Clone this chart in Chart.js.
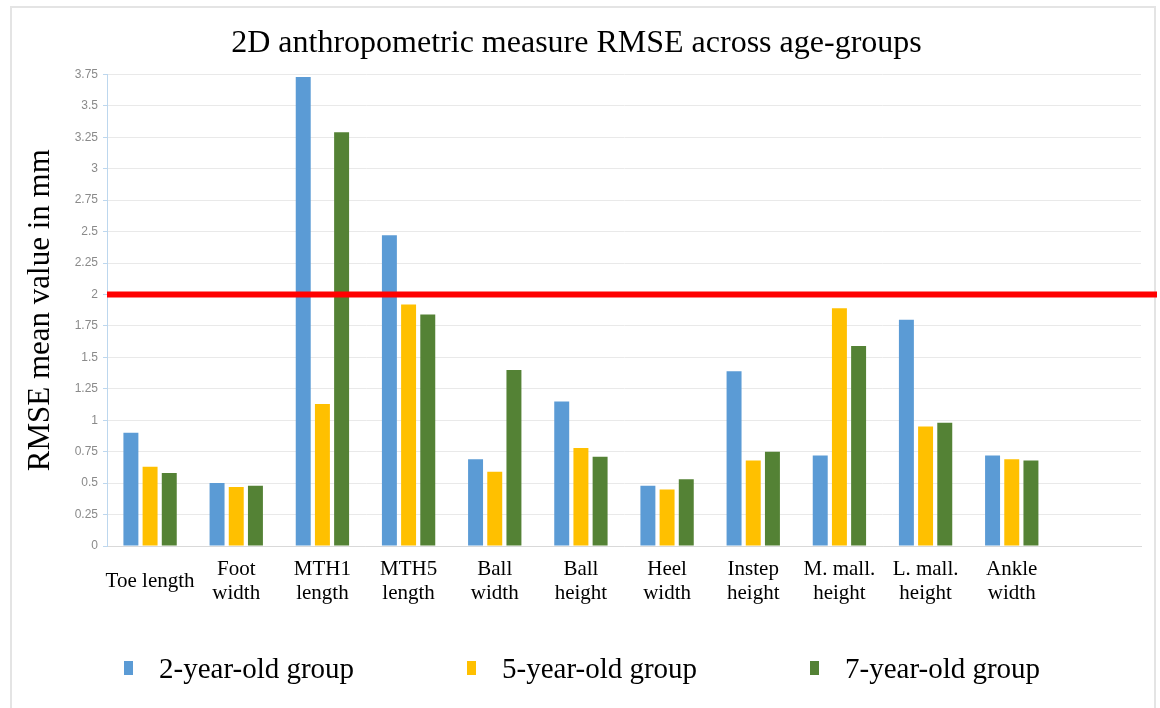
<!DOCTYPE html>
<html>
<head>
<meta charset="utf-8">
<script src="https://cdn.jsdelivr.net/npm/chart.js@4/dist/chart.umd.min.js"></script>
<style>
  html, body { margin: 0; padding: 0; background: #ffffff; }
  #wrap { position: relative; width: 1160px; height: 708px; overflow: hidden; }
  #frame { position: absolute; left: 10px; top: 6px; width: 1146px; height: 720px; border: 2px solid #e4e4e4; box-sizing: border-box; }
  canvas { position: absolute; left: 0; top: 0; }
  #legend { position: absolute; left: 124px; top: 648px; display: flex; font-family: "Liberation Serif", "Times New Roman", serif; font-size: 29px; color: #000; }
  .item { width: 343px; display: flex; align-items: center; height: 40px; }
  .swatch { width: 9px; height: 14px; margin-right: 26px; }
</style>
</head>
<body>
<div id="wrap">
  <div id="frame"></div>
  <canvas id="chart" width="1160" height="708"></canvas>
  <div id="legend"></div>
</div>
<script>
// Measures (x categories); the trailing blank slot leaves an empty band at the right
const categories = [
  'Toe length', ['Foot', 'width'], ['MTH1', 'length'], ['MTH5', 'length'],
  ['Ball', 'width'], ['Ball', 'height'], ['Heel', 'width'], ['Instep', 'height'],
  ['M. mall.', 'height'], ['L. mall.', 'height'], ['Ankle', 'width'], ''
];

// RMSE mean values in mm for each age group
const group2 = [0.90, 0.50, 3.73, 2.47, 0.69, 1.15, 0.48, 1.39, 0.72, 1.80, 0.72];
const group5 = [0.63, 0.47, 1.13, 1.92, 0.59, 0.78, 0.45, 0.68, 1.89, 0.95, 0.69];
const group7 = [0.58, 0.48, 3.29, 1.84, 1.40, 0.71, 0.53, 0.75, 1.59, 0.98, 0.68];

const seriesNames = ['2-year-old group', '5-year-old group', '7-year-old group'];
const seriesColors = ['#5b9bd5', '#ffc000', '#548235'];

// Y axis range and reference threshold
const yMax = 3.75;
const yStep = 0.25;
const threshold = 2;

const serif = '"Liberation Serif", "Times New Roman", serif';

// Red horizontal reference line at the threshold value
const thresholdLine = {
  id: 'thresholdLine',
  afterDatasetsDraw(chart) {
    const { ctx, chartArea, scales } = chart;
    const y = scales.y.getPixelForValue(threshold);
    ctx.save();
    ctx.strokeStyle = '#ff0000';
    ctx.lineWidth = 6;
    ctx.beginPath();
    ctx.moveTo(chartArea.left, y);
    ctx.lineTo(chart.width - 3, y);
    ctx.stroke();
    ctx.restore();
  }
};

const chart = new Chart(document.getElementById('chart'), {
  type: 'bar',
  data: {
    labels: categories,
    datasets: [group2, group5, group7].map((vals, i) => ({
      label: seriesNames[i],
      data: vals,
      backgroundColor: seriesColors[i],
      borderWidth: 0,
      categoryPercentage: 0.668,
      barPercentage: 0.78
    }))
  },
  options: {
    responsive: false,
    animation: false,
    layout: { padding: { left: 12, right: 19, top: 0, bottom: 82 } },
    plugins: {
      legend: { display: false },
      tooltip: { enabled: false },
      title: {
        display: true,
        text: '2D anthropometric measure RMSE across age-groups',
        color: '#000',
        font: { family: serif, size: 32, weight: 'normal' },
        padding: { top: 24, bottom: 12 }
      }
    },
    scales: {
      x: {
        grid: { display: false, drawTicks: false },
        border: { display: true, color: '#d9d9d9', width: 1 },
        ticks: {
          color: '#000',
          font: { family: serif, size: 21, lineHeight: 1.15 },
          padding: 23,
          crossAlign: 'center',
          maxRotation: 0,
          autoSkip: false
        },
        afterFit(scale) { scale.height = 80; }
      },
      y: {
        min: 0,
        max: yMax,
        grid: { color: '#e9e9e9', lineWidth: 1, tickColor: '#bdd7ee', tickLength: 4 },
        border: { display: true, color: '#bdd7ee', width: 1 },
        ticks: {
          stepSize: yStep,
          color: '#8a8a8a',
          font: { family: '"Liberation Sans", Arial, sans-serif', size: 12 },
          padding: 5,
          callback: v => String(+v.toFixed(2))
        },
        title: {
          display: true,
          text: 'RMSE mean value in mm',
          color: '#000',
          font: { family: serif, size: 31, weight: 'normal' },
          padding: { top: 10, bottom: 0 }
        },
        afterFit(scale) { scale.width = 95; }
      }
    }
  },
  plugins: [thresholdLine]
});

// Legend row built from the series names and colours
const legend = document.getElementById('legend');
seriesNames.forEach((name, i) => {
  const item = document.createElement('div');
  item.className = 'item';
  const sw = document.createElement('span');
  sw.className = 'swatch';
  sw.style.background = seriesColors[i];
  const tx = document.createElement('span');
  tx.textContent = name;
  item.appendChild(sw);
  item.appendChild(tx);
  legend.appendChild(item);
});
</script>
</body>
</html>
